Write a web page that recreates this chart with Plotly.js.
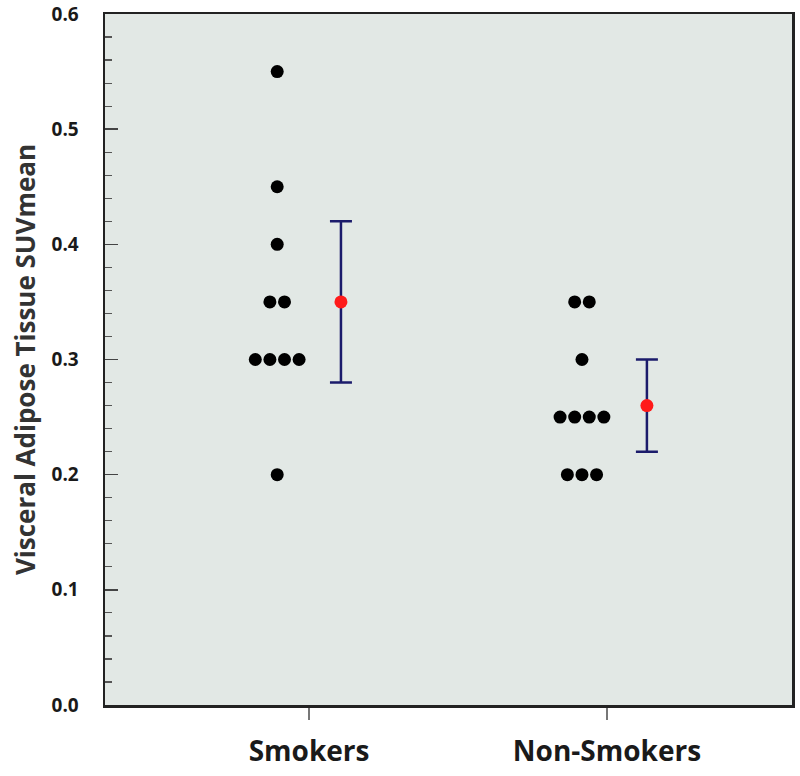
<!DOCTYPE html>
<html>
<head>
<meta charset="utf-8">
<script src="https://cdn.plot.ly/plotly-3.0.1.min.js"></script>
<style>html,body{margin:0;padding:0;background:#fff;}#chart{width:800px;height:776px;}</style>
</head>
<body>
<div id="chart"></div>
<script>
// Data
var categories = ["Smokers", "Non-Smokers"];
var smokersValues = [0.55, 0.45, 0.40, 0.35, 0.35, 0.30, 0.30, 0.30, 0.30, 0.20];
var nonSmokersValues = [0.35, 0.35, 0.30, 0.25, 0.25, 0.25, 0.25, 0.20, 0.20, 0.20];
var groupMeans = [0.35, 0.26];
var groupCI = [0.07, 0.04];
var yTickVals = [0.0, 0.1, 0.2, 0.3, 0.4, 0.5, 0.6];
var yTickText = ["0.0", "0.1", "0.2", "0.3", "0.4", "0.5", "0.6"];

// Layout constants (dot column and mean offsets relative to category)
var dotOffsets = [-0.107, -0.084];
var meanOffsets = [0.107, 0.134];
var dotSpacing = 0.049;

function spreadX(values, catIndex, offset) {
  var counts = {}, seen = {};
  values.forEach(function (v) { counts[v] = (counts[v] || 0) + 1; });
  return values.map(function (v) {
    var k = seen[v] || 0; seen[v] = k + 1;
    return catIndex + offset + (k - (counts[v] - 1) / 2) * dotSpacing;
  });
}

var groups = [smokersValues, nonSmokersValues];
var traces = [];
groups.forEach(function (vals, i) {
  traces.push({
    type: "scatter", mode: "markers",
    x: spreadX(vals, i, dotOffsets[i]), y: vals,
    marker: { color: "#000000", size: 13 },
    showlegend: false, hoverinfo: "y"
  });
});
traces.push({
  type: "scatter", mode: "markers",
  x: categories.map(function (c, i) { return i + meanOffsets[i]; }),
  y: groupMeans,
  error_y: { type: "data", array: groupCI, visible: true, color: "#1b1b6b", thickness: 2.5, width: 11 },
  marker: { color: "#ff1a1a", size: 13 },
  showlegend: false
});

var fontFam = "'Open Sans', Lato, sans-serif";
var layout = {
  width: 800, height: 776,
  margin: { l: 105, r: 8, t: 14, b: 71 },
  paper_bgcolor: "#ffffff",
  plot_bgcolor: "#e2e8e5",
  showlegend: false,
  font: { family: fontFam, color: "#222222" },
  xaxis: {
    range: [-0.685, 1.621],
    tickmode: "array",
    tickvals: categories.map(function (c, i) { return i; }),
    ticktext: categories,
    ticks: "outside", ticklen: 12, tickwidth: 1.5, tickcolor: "#777777",
    tickfont: { size: 28, family: fontFam, color: "#1a1a1a", weight: "bold" },
    ticklabelstandoff: 8,
    showline: true, linecolor: "#222222", linewidth: 2.5, mirror: true,
    showgrid: false, zeroline: false, fixedrange: true
  },
  yaxis: {
    range: [0, 0.6],
    tickmode: "array",
    tickvals: yTickVals,
    ticktext: yTickText,
    ticks: "inside", ticklen: 13, tickwidth: 1.5, tickcolor: "#444444",
    minor: { ticks: "inside", ticklen: 7, tickwidth: 1.2, tickcolor: "#555555", dtick: 0.02, tick0: 0, showgrid: false },
    tickfont: { size: 19, family: fontFam, color: "#1a1a1a", weight: "bold" },
    ticklabelstandoff: 20,
    showline: true, linecolor: "#222222", linewidth: 2.5, mirror: true,
    showgrid: false, zeroline: false, fixedrange: true,
    title: { text: "Visceral Adipose Tissue SUVmean", font: { size: 26, family: fontFam, color: "#333333", weight: "bold" }, standoff: 9 }
  }
};

Plotly.newPlot("chart", traces, layout, { displayModeBar: false, staticPlot: true });
</script>
</body>
</html>
